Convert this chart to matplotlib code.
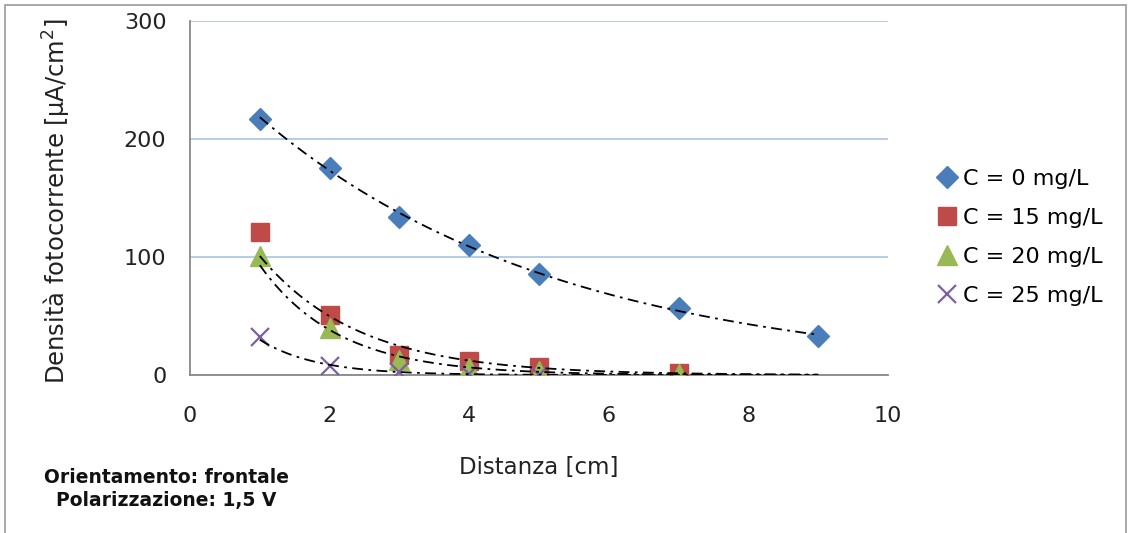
import numpy as np
import matplotlib
matplotlib.use("Agg")
import matplotlib.pyplot as plt
from matplotlib.patches import Rectangle

plt.rcParams["font.family"] = ["DejaVu Sans"]

# distances [cm] and photocurrent density [uA/cm2]
x0 = [1, 2, 3, 4, 5, 7, 9]
y0 = [217, 175, 134, 110, 86, 57, 33]
x15 = [1, 2, 3, 4, 5, 7]
y15 = [121, 51, 17, 12, 7, 1.5]
x20 = [1, 2, 3, 4, 5, 7]
y20 = [101, 40, 13, 6, 3, 0.45]
x25 = [1, 2, 3, 4, 5]
y25 = [32, 8, 2.5, 0.7, 0.22]

labels = ["C = 0 mg/L", "C = 15 mg/L", "C = 20 mg/L", "C = 25 mg/L"]
colors = ["#4a7ebb", "#be4b48", "#98b954", "#7d60a0"]
markers = ["D", "s", "^", "x"]
msizes = [11, 13, 14, 13]

fig = plt.figure(figsize=(11.29, 5.33), dpi=100)
ax = fig.add_axes([190 / 1129, 1 - 375 / 533, 698 / 1129, 354 / 533])

series = [(x0, y0), (x15, y15), (x20, y20), (x25, y25)]
for (xs, ys), lab, c, m, ms in zip(series, labels, colors, markers, msizes):
    if m == "x":
        ax.plot(xs, ys, ls="none", marker=m, ms=ms, mew=1.6, color=c, label=lab, zorder=3)
    else:
        ax.plot(xs, ys, ls="none", marker=m, ms=ms, mfc=c, mec=c, label=lab, zorder=3)

# exponential trendlines (fit in log space, like Excel)
xt = np.linspace(1, 9, 200)
for xs, ys in series:
    b, a = np.polyfit(xs, np.log(ys), 1)
    ax.plot(xt, np.exp(a + b * xt), color="black", lw=1.3,
            ls=(0, (6, 3, 1.5, 3)), zorder=4)

ax.set_xlim(0, 10)
ax.set_ylim(0, 300)
ax.set_xticks(range(0, 11, 2))
ax.set_yticks([0, 100, 200, 300])
ax.tick_params(length=0, labelsize=16, colors="#222222")
ax.tick_params(axis="y", pad=17)
ax.tick_params(axis="x", pad=22)
ax.grid(axis="y", color="#a9c2e2", lw=1.2)
ax.set_axisbelow(True)
for s in ["top", "right"]:
    ax.spines[s].set_visible(False)
for s in ["left", "bottom"]:
    ax.spines[s].set_color("#888888")
    ax.spines[s].set_linewidth(1.3)

ax.set_xlabel("Distanza [cm]", fontsize=16.5, color="#222222")
ax.xaxis.set_label_coords(0.5, -0.228)
ax.set_ylabel("Densità fotocorrente [µA/cm$^2$]", fontsize=17.5, color="#222222")
ax.yaxis.set_label_coords(-0.168, 0.49)

ax.legend(loc="upper left", bbox_to_anchor=(921 / 1129, 1 - 160 / 533),
          bbox_transform=fig.transFigure, frameon=False, fontsize=16,
          handletextpad=0.0, labelspacing=0.86, handlelength=1.5,
          borderaxespad=0)

fig.text(166 / 1129, 1 - 489 / 533, "Orientamento: frontale\nPolarizzazione: 1,5 V",
         ha="center", va="center", fontsize=13.5, fontweight="bold",
         linespacing=1.25, color="#111111")

fig.patches.append(Rectangle((5 / 1129, -0.01), 1121 / 1129, 1 - 5 / 533 + 0.01,
                             transform=fig.transFigure, fill=False,
                             edgecolor="#999999", lw=1.2))

fig.savefig("out.png", dpi=100)
